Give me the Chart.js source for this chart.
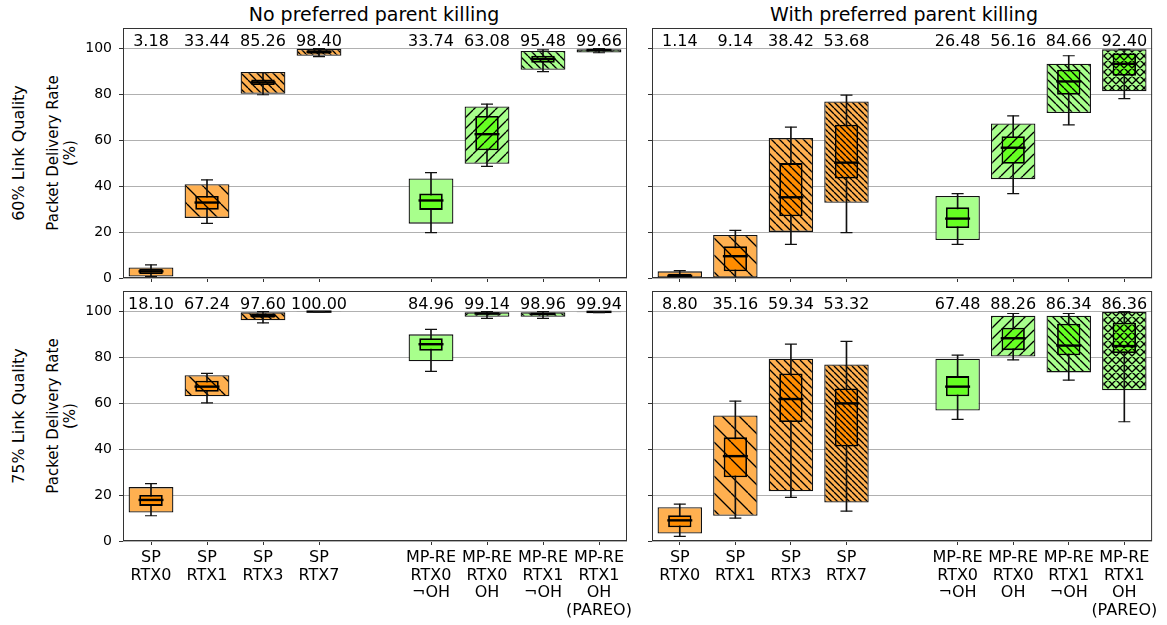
<!DOCTYPE html>
<html>
<head>
<meta charset="utf-8">
<script src="https://cdn.jsdelivr.net/npm/chart.js@4"></script>
<style>
body { margin: 0; background: #fff; width: 1167px; height: 625px; position: relative; overflow: hidden; font-family: "DejaVu Sans", sans-serif; }
canvas { position: absolute; left: 0; top: 0; }
.txt { position: absolute; white-space: nowrap; color: #000; transform: translate(-50%, -50%); }
.rot { transform: translate(-50%, -50%) rotate(-90deg); text-align: center; }
</style>
</head>
<body>
<div class="txt" style="left:374px; top:14px; font-size:19px;">No preferred parent killing</div>
<div class="txt" style="left:904px; top:14px; font-size:19px;">With preferred parent killing</div>
<div class="txt rot" style="left:18px; top:153px; font-size:16px;">60% Link Quality</div>
<div class="txt rot" style="left:18px; top:416px; font-size:16px;">75% Link Quality</div>
<div class="txt rot" style="left:61px; top:153px; font-size:15px; line-height:1.1;">Packet Delivery Rate<br>(%)</div>
<div class="txt rot" style="left:61px; top:416px; font-size:15px; line-height:1.1;">Packet Delivery Rate<br>(%)</div>
<canvas id="c0" width="1167" height="625"></canvas>
<canvas id="c1" width="1167" height="625"></canvas>
<canvas id="c2" width="1167" height="625"></canvas>
<canvas id="c3" width="1167" height="625"></canvas>
<script>
// categories (index 4 is the empty gap between SP and MP-RE)
const categories = [
    ['SP', 'RTX0'], ['SP', 'RTX1'], ['SP', 'RTX3'], ['SP', 'RTX7'], '',
    ['MP-RE', 'RTX0', '¬OH'], ['MP-RE', 'RTX0', 'OH'], ['MP-RE', 'RTX1', '¬OH'], ['MP-RE', 'RTX1', 'OH', '(PAREO)']
];
const yTicks = [0, 20, 40, 60, 80, 100];

// 60% link quality, no preferred parent killing
const noKill60Outer = [[0.6, 4.6], [26.2, 40.9], [80.3, 89.8], [96.9, 99.9], null, [23.7, 43.4], [49.8, 74.8], [90.8, 99.0], [98.3, 99.7]];
const noKill60Box = [[1.7, 3.9], [29.8, 35.8], [84.1, 86.6], [97.8, 99.3], null, [29.7, 36.8], [55.7, 70.6], [93.9, 96.9], [98.9, 99.8]];
const noKill60Whisker = [[0.6, 5.7], [23.8, 42.8], [79.9, 89.5], [96.5, 100], null, [19.8, 45.9], [48.7, 75.8], [90.0, 99.5], [98.2, 100]];
const noKill60Median = [2.9, 32.9, 85.3, 98.6, null, 33.8, 62.7, 95.5, 99.4];
const noKill60Mean = [3.18, 33.44, 85.26, 98.40, null, 33.74, 63.08, 95.48, 99.66];

// 60% link quality, with preferred parent killing
const kill60Outer = [[0, 2.9], [0, 18.8], [20.1, 61.0], [32.8, 77.0], null, [16.6, 35.8], [43.1, 67.4], [71.9, 93.4], [81.4, 99.7]];
const kill60Box = [[0.2, 1.9], [2.9, 13.8], [26.9, 50.1], [43.4, 66.8], null, [21.8, 30.8], [49.8, 61.8], [79.9, 90.8], [88.2, 97.9]];
const kill60Whisker = [[0, 3.2], [0, 20.8], [14.7, 65.8], [19.8, 79.7], null, [14.7, 36.8], [36.8, 70.7], [66.8, 96.9], [78.2, 99.7]];
const kill60Median = [0.9, 9.5, 35.2, 50.3, null, 25.9, 56.8, 85.7, 93.4];
const kill60Mean = [1.14, 9.14, 38.42, 53.68, null, 26.48, 56.16, 84.66, 92.40];

// 75% link quality, no preferred parent killing
const noKill75Outer = [[12.4, 23.5], [63.1, 72.3], [96.2, 99.7], [99.8, 100], null, [78.4, 90.1], [97.8, 99.7], [97.8, 99.7], [99.7, 100]];
const noKill75Box = [[15.3, 20.1], [65.1, 69.9], [97.3, 99.1], [100, 100], null, [83.0, 88.4], [98.6, 99.5], [98.4, 99.4], [99.8, 100]];
const noKill75Whisker = [[11.0, 25.0], [60.2, 73.1], [95.1, 100], [100, 100], null, [74.0, 92.3], [97.1, 100], [97.1, 100], [99.6, 100]];
const noKill75Median = [17.9, 67.3, 98.2, 100, null, 85.8, 99.2, 99.0, 99.9];
const noKill75Mean = [18.10, 67.24, 97.60, 100.00, null, 84.96, 99.14, 98.96, 99.94];

// 75% link quality, with preferred parent killing
const kill75Outer = [[3.3, 14.7], [11.0, 54.7], [21.7, 79.5], [16.8, 77.0], null, [56.9, 79.5], [80.4, 98.2], [73.5, 98.2], [65.7, 100]];
const kill75Box = [[6.0, 11.2], [27.8, 45.2], [51.9, 73.0], [41.2, 66.5], null, [63.1, 71.9], [83.2, 93.0], [81.0, 94.7], [82.0, 95.2]];
const kill75Whisker = [[2.0, 16.1], [10.0, 61.0], [19.0, 85.8], [13.0, 87.0], null, [53.0, 81.0], [79.0, 99.2], [70.1, 99.2], [52.0, 100]];
const kill75Median = [9.0, 37.0, 61.9, 60.0, null, 67.3, 88.4, 85.2, 85.0];
const kill75Mean = [8.80, 35.16, 59.34, 53.32, null, 67.48, 88.26, 86.34, 86.36];

// styling per category
const hatchKinds = ['none', 'back1', 'back2', 'back3', 'none', 'none', 'fwd', 'back2', 'cross'];
const hatchSize = { back1: 17, back2: 8, back3: 6, fwd: 11, cross: 8 };
const isSP = [true, true, true, true, true, false, false, false, false];
const FONT = '"DejaVu Sans", sans-serif';

function makeHatch(bg, kind) {
    if (kind === 'none') return bg;
    const s = hatchSize[kind];
    const c = document.createElement('canvas');
    c.width = s; c.height = s;
    const g = c.getContext('2d');
    g.fillStyle = bg;
    g.fillRect(0, 0, s, s);
    g.strokeStyle = '#000';
    g.lineWidth = 1.35;
    g.beginPath();
    for (let k = -1; k <= 1; k++) {
        if (kind !== 'fwd') { g.moveTo(k * s, 0); g.lineTo(k * s + s, s); }
        if (kind === 'fwd' || kind === 'cross') { g.moveTo(k * s, s); g.lineTo(k * s + s, 0); }
    }
    g.stroke();
    return g.createPattern(c, 'repeat');
}

const outerFills = hatchKinds.map((h, i) => makeHatch(isSP[i] ? '#ffb050' : '#a8ff8c', h));
const innerFills = hatchKinds.map((h, i) => makeHatch(isSP[i] ? '#ff8c00' : '#66ff22', h));

// frame and mean labels
const panelPlugin = {
    id: 'panel',
    afterDatasetsDraw(chart, args, opts) {
        const { ctx, chartArea: a, scales: { x, y } } = chart;
        ctx.save();
        ctx.strokeStyle = '#333';
        ctx.lineWidth = 1;
        ctx.strokeRect(a.left + 0.5, a.top + 0.5, a.right - a.left - 1, a.bottom - a.top - 1);
        ctx.fillStyle = '#000';
        ctx.font = '16px ' + FONT;
        ctx.textAlign = 'center';
        ctx.textBaseline = 'alphabetic';
        opts.means.forEach((m, i) => {
            if (m == null) return;
            ctx.fillText(m.toFixed(2), x.getPixelForValue(i), y.getPixelForValue(101));
        });
        ctx.restore();
    }
};

function makePanel(id, area, showY, showX, outer, box, whisker, median, mean) {
    const xHeight = showX ? 80 : 6;
    new Chart(document.getElementById(id), {
        type: 'bar',
        data: {
            labels: categories,
            datasets: [
                {
                    type: 'line', data: whisker.map(w => w ? w[1] : null), showLine: false,
                    pointStyle: 'line', pointRadius: 6, pointHoverRadius: 6,
                    pointBorderWidth: 1.2, pointBorderColor: '#111', order: 0
                },
                {
                    type: 'line', data: whisker.map(w => w ? w[0] : null), showLine: false,
                    pointStyle: 'line', pointRadius: 6, pointHoverRadius: 6,
                    pointBorderWidth: 1.2, pointBorderColor: '#111', order: 0
                },
                {
                    type: 'line', data: median, showLine: false,
                    pointStyle: 'line', pointRadius: 12.5, pointHoverRadius: 12.5,
                    pointBorderWidth: 2.4, pointBorderColor: '#000', order: 1
                },
                {
                    data: box, backgroundColor: innerFills, borderColor: '#000', borderWidth: 1.8,
                    borderSkipped: false, grouped: false, categoryPercentage: 1, barPercentage: 0.42, order: 2
                },
                {
                    data: whisker, backgroundColor: '#111', borderWidth: 0,
                    grouped: false, barThickness: 1, order: 3
                },
                {
                    data: outer, backgroundColor: outerFills, borderColor: '#111', borderWidth: 1.3,
                    borderSkipped: false, grouped: false, categoryPercentage: 1, barPercentage: 0.8, order: 4
                }
            ]
        },
        options: {
            responsive: false,
            devicePixelRatio: 1,
            animation: false,
            events: [],
            layout: {
                padding: { left: area.left - 50, right: 1167 - area.right, top: area.top, bottom: 625 - area.bottom - xHeight }
            },
            plugins: { legend: { display: false }, tooltip: { enabled: false }, panel: { means: mean } },
            scales: {
                x: {
                    type: 'category', offset: true,
                    afterFit: s => { s.height = xHeight; s.paddingLeft = 0; s.paddingRight = 0; },
                    border: { display: false },
                    grid: {
                        offset: false, drawOnChartArea: false, tickLength: 4,
                        tickColor: c => c.index === 4 ? 'rgba(0,0,0,0)' : '#333'
                    },
                    ticks: {
                        display: showX, autoSkip: false, maxRotation: 0, minRotation: 0, padding: 4,
                        color: '#000', font: { family: FONT, size: 16, lineHeight: 1.1 }
                    }
                },
                y: {
                    min: 0, max: 109,
                    afterBuildTicks: s => { s.ticks = yTicks.map(v => ({ value: v })); },
                    afterFit: s => { s.width = 50; s.paddingTop = 0; s.paddingBottom = 0; },
                    border: { display: false },
                    grid: { color: '#b0b0b0', lineWidth: 1, tickLength: 4, tickColor: '#333' },
                    ticks: { display: showY, padding: 7, color: '#000', font: { family: FONT, size: 14 } }
                }
            }
        },
        plugins: [panelPlugin]
    });
}

makePanel('c0', { left: 123, right: 627, top: 28, bottom: 278 }, true, false,
    noKill60Outer, noKill60Box, noKill60Whisker, noKill60Median, noKill60Mean);
makePanel('c1', { left: 652, right: 1156, top: 28, bottom: 278 }, false, false,
    kill60Outer, kill60Box, kill60Whisker, kill60Median, kill60Mean);
makePanel('c2', { left: 123, right: 627, top: 291, bottom: 541 }, true, true,
    noKill75Outer, noKill75Box, noKill75Whisker, noKill75Median, noKill75Mean);
makePanel('c3', { left: 652, right: 1156, top: 291, bottom: 541 }, false, true,
    kill75Outer, kill75Box, kill75Whisker, kill75Median, kill75Mean);
</script>
</body>
</html>
